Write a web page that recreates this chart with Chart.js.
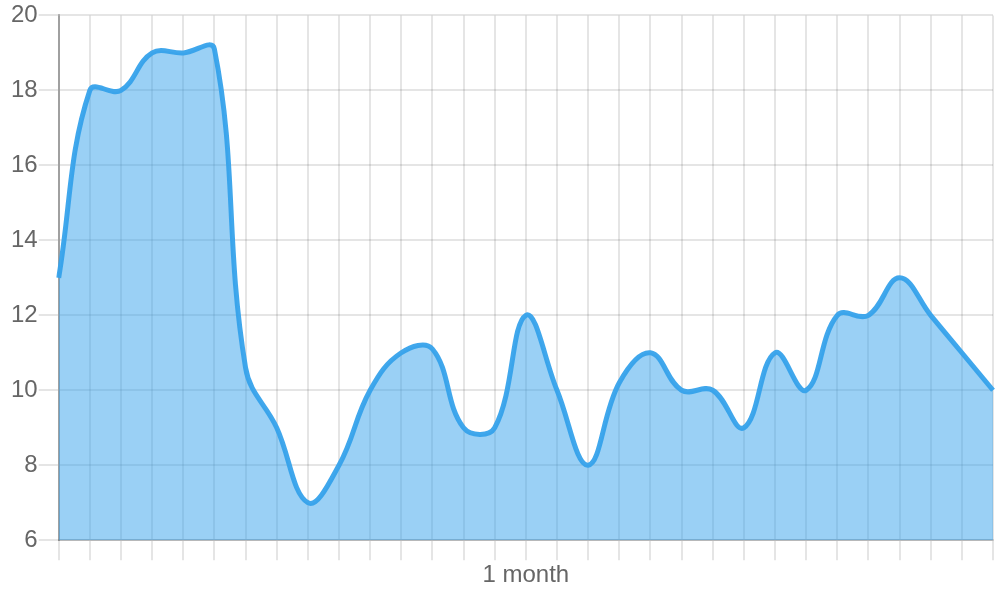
<!DOCTYPE html>
<html>
<head>
<meta charset="utf-8">
<title>1 month</title>
<script src="https://cdn.jsdelivr.net/npm/chart.js@4/dist/chart.umd.min.js"></script>
<style>
  html, body { margin: 0; padding: 0; background: #fff; }
  #wrap { width: 1000px; height: 600px; }
</style>
</head>
<body>
<div id="wrap"><canvas id="myChart" width="1000" height="600"></canvas></div>
<script>
// one value per day, 31 days
const days = ['1', '2', '3', '4', '5', '6', '7', '8', '9', '10', '11', '12', '13', '14', '15', '16',
              '17', '18', '19', '20', '21', '22', '23', '24', '25', '26', '27', '28', '29', '30', '31'];
const values = [13, 18, 18, 19, 19, 19.1, 10.6, 9, 7, 8, 10, 11, 11.1, 9, 9, 12,
                10, 8, 10.2, 11, 10, 10, 9, 11, 10, 12, 12, 13, 12, 11, 10];
const yTicks = [6, 8, 10, 12, 14, 16, 18, 20];
const xTitle = '1 month';

const ctx = document.getElementById('myChart').getContext('2d');

new Chart(ctx, {
    type: 'line',
    data: {
        labels: days,
        datasets: [{
            data: values,
            fill: 'start',
            backgroundColor: 'rgba(54, 162, 235, 0.5)',
            borderColor: 'rgba(54, 162, 235, 0.95)',
            borderWidth: 5,
            pointRadius: 0,
            tension: 0.4
        }]
    },
    options: {
        responsive: false,
        animation: false,
        layout: {
            padding: {top: 3, left: 10, right: 7, bottom: 10}
        },
        plugins: {
            legend: {display: false},
            tooltip: {enabled: false}
        },
        scales: {
            x: {
                grid: {
                    color: 'rgba(0, 0, 0, 0.1)',
                    lineWidth: 2,
                    tickLength: 20
                },
                border: {color: 'rgba(0, 0, 0, 0.2)', width: 2},
                ticks: {display: false},
                title: {
                    display: true,
                    text: xTitle,
                    color: '#666',
                    font: {family: "'Liberation Sans', Arial, sans-serif", size: 24},
                    padding: {top: 1, bottom: 0}
                }
            },
            y: {
                min: yTicks[0],
                max: yTicks[yTicks.length - 1],
                afterBuildTicks: (axis) => {
                    axis.ticks = yTicks.map(v => ({value: v}));
                },
                grid: {
                    color: 'rgba(0, 0, 0, 0.1)',
                    lineWidth: 2,
                    tickLength: 20
                },
                border: {color: 'rgba(0, 0, 0, 0.3)', width: 2},
                ticks: {
                    color: '#666',
                    padding: 1,
                    font: {family: "'Liberation Sans', Arial, sans-serif", size: 24}
                }
            }
        }
    }
});
</script>
</body>
</html>
